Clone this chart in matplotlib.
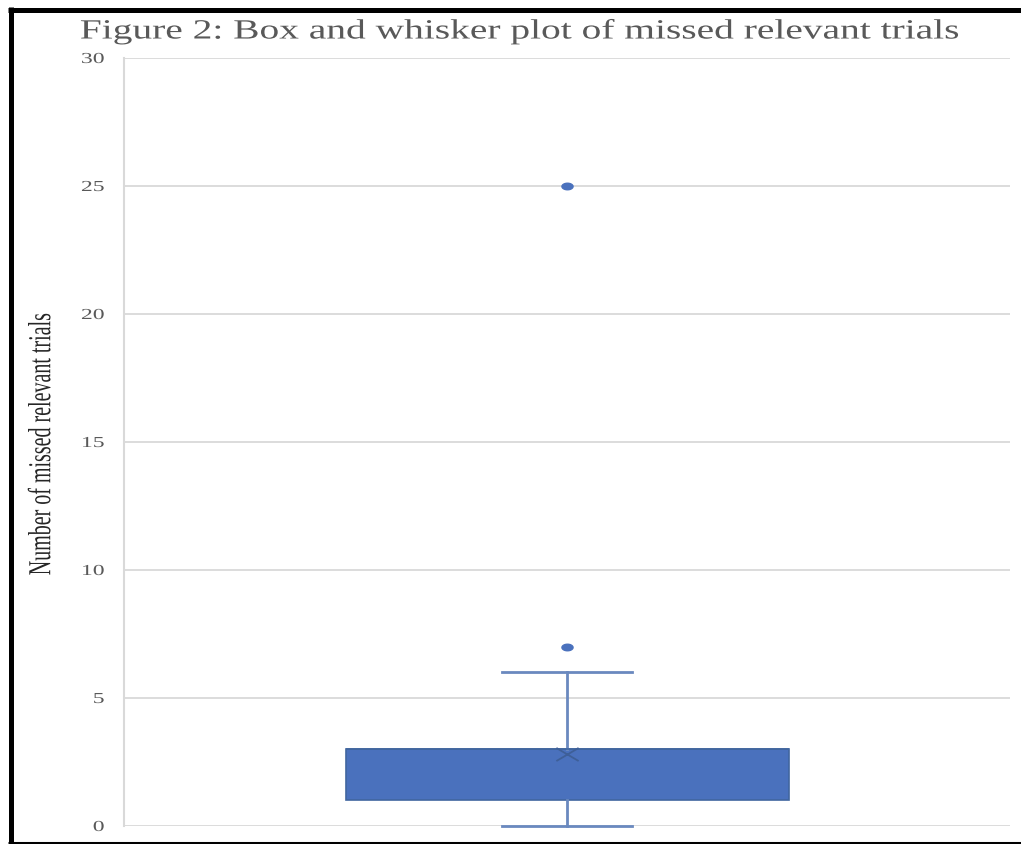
import matplotlib
matplotlib.use("Agg")
import matplotlib.pyplot as plt
from matplotlib.lines import Line2D
from matplotlib.path import Path
from matplotlib.transforms import Affine2D
from matplotlib.patheffects import AbstractPathEffect
import numpy as np

# Summary statistics of missed relevant trials
q1 = 1
median = 3
q3 = 3
whisker_low = 0
whisker_high = 6
mean_value = 2.8
outliers = [7, 25]
y_ticks = [0, 5, 10, 15, 20, 25, 30]

title_text = "Figure 2: Box and whisker plot of missed relevant trials"
y_label_text = "Number of missed relevant trials"

BOX_BLUE = "#4a71bd"
BOX_EDGE = "#41669f"
WHISKER = "#6a89bf"
TEXT_GREY = "#595959"
GRID = "#d9d9d9"


class HStretch(AbstractPathEffect):
    """Widen glyphs horizontally about the text anchor."""

    def __init__(self, text, sx):
        super().__init__()
        self.text = text
        self.sx = sx

    def draw_path(self, renderer, gc, tpath, affine, rgbFace=None):
        cx = self.text.get_transform().transform(self.text.get_position())[0]
        stretch = Affine2D().translate(-cx, 0).scale(self.sx, 1).translate(cx, 0)
        renderer.draw_path(gc, tpath, affine + stretch, rgbFace)


def stretch_text(t, sx):
    t.set_path_effects([HStretch(t, sx)])


plt.rcParams["font.family"] = ["Liberation Serif", "DejaVu Serif"]

fig = plt.figure(figsize=(10.21, 8.44), dpi=100)
W, H = 1021, 844
ax = fig.add_axes([124 / W, 1 - 826 / H, (1010 - 124) / W, (826 - 58) / H])

stats = [dict(q1=q1, med=median, q3=q3, whislo=whisker_low, whishi=whisker_high,
              mean=mean_value, fliers=outliers, label="")]

# wide, flattened markers for outliers and the mean cross
theta = np.linspace(0, 2 * np.pi, 60)
ellipse = Path(np.column_stack([1.7 * np.cos(theta), np.sin(theta)]), closed=True)
cross = Path([(-1.7, -1), (1.7, 1), (-1.7, 1), (1.7, -1)],
             [Path.MOVETO, Path.LINETO, Path.MOVETO, Path.LINETO])

parts = ax.bxp(stats, positions=[1], widths=0.5, capwidths=0.146, showmeans=True,
               patch_artist=True,
               boxprops=dict(facecolor=BOX_BLUE, edgecolor=BOX_EDGE, linewidth=1.2),
               medianprops=dict(color=BOX_EDGE, linewidth=1.2),
               whiskerprops=dict(color=WHISKER, linewidth=2),
               capprops=dict(color=WHISKER, linewidth=2),
               flierprops=dict(marker=ellipse, markersize=8, markerfacecolor=BOX_BLUE,
                               markeredgecolor=BOX_BLUE, linestyle="none"),
               meanprops=dict(marker=cross, markersize=16, markeredgecolor="#3e5f98",
                              markerfacecolor="none", markeredgewidth=1.3))
for group in parts.values():
    for artist in group:
        artist.set_clip_on(False)

ax.set_xlim(0.5, 1.5)
ax.set_ylim(0, 30)
ax.set_yticks(y_ticks)
ax.set_xticks([])
ax.yaxis.grid(True, color=GRID, linewidth=1.3)
ax.set_axisbelow(True)
for side in ("top", "right", "bottom"):
    ax.spines[side].set_visible(False)
ax.spines["left"].set_color(GRID)
ax.spines["left"].set_linewidth(1.5)
ax.tick_params(axis="y", length=0, pad=14, labelsize=11, labelcolor=TEXT_GREY)
for lab in ax.get_yticklabels():
    stretch_text(lab, 1.55)

ylab = fig.text(43 / W, 1 - 444 / H, y_label_text, rotation=90, ha="center",
                va="center", fontsize=14.4, color="#262626")
stretch_text(ylab, 1.6)

title = fig.text(520 / W, 1 - 32 / H, title_text, ha="center", va="center",
                 fontsize=20, color=TEXT_GREY)
stretch_text(title, 1.42)

# frame lines around the figure
fig.add_artist(Line2D([8 / W, 1], [1 - 9.5 / H, 1 - 9.5 / H], color="black",
                      linewidth=3.6, transform=fig.transFigure, solid_capstyle="butt"))
fig.add_artist(Line2D([10.5 / W, 10.5 / W], [0, 1 - 7 / H], color="black",
                      linewidth=3.6, transform=fig.transFigure, solid_capstyle="butt"))
fig.add_artist(Line2D([8 / W, 1], [1.5 / H, 1.5 / H], color="black",
                      linewidth=2.2, transform=fig.transFigure, solid_capstyle="butt"))

fig.savefig("out.png", dpi=100)
